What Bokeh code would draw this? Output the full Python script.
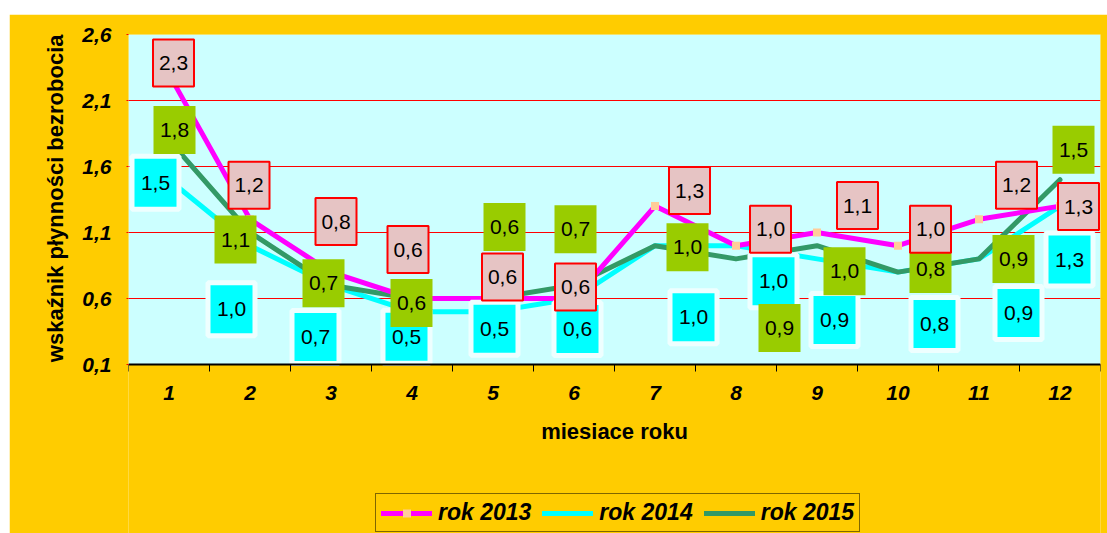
from bokeh.plotting import figure
from bokeh.models import (ColumnDataSource, FixedTicker, Legend, LegendItem, Range1d,
                          BoxAnnotation, Title)
from bokeh.core.properties import value
from bokeh.embed import file_html
from bokeh.resources import INLINE

# ---------------- data ----------------
months = [1, 2, 3, 4, 5, 6, 7, 8, 9, 10, 11, 12]
month_labels = ["1", "2", "3", "4", "5", "6", "7", "8", "9", "10", "11", "12"]
rok_2013 = [2.3, 1.2, 0.8, 0.6, 0.6, 0.6, 1.3, 1.0, 1.1, 1.0, 1.2, 1.3]
rok_2014 = [1.5, 1.0, 0.7, 0.5, 0.5, 0.6, 1.0, 1.0, 0.9, 0.8, 0.9, 1.3]
rok_2015 = [1.8, 1.1, 0.7, 0.6, 0.6, 0.7, 1.0, 0.9, 1.0, 0.8, 0.9, 1.5]
y_ticks = [0.1, 0.6, 1.1, 1.6, 2.1, 2.6]
y_tick_labels = ["0,1", "0,6", "1,1", "1,6", "2,1", "2,6"]
series_names = ["rok 2013", "rok 2014", "rok 2015"]
y_title = "wskaźnik płynności bezrobocia"
x_title = "miesiace roku"

# ---------------- layout / style ----------------
W, H = 1098, 519
MARGIN = (14, 0, 0, 9)
BL, BR, BT = 119, 7, 20
PLOT_H = 330            # height of the value area (0.1 .. 2.6) in px
PAD_BELOW = 169         # px of frame kept under the value area for axis + legend
X0, X1 = 0.5, 12.5
V0, V1 = y_ticks[0], y_ticks[-1]
YS = PLOT_H / (V1 - V0)
Y0 = V0 - PAD_BELOW / YS
FW = W - BL - BR
XS = FW / (X1 - X0)

# data-label box offsets from their point, in screen pixels (dx right, dy down)
off_2013 = [(4.5, -11), (-1, -34), (5, -50.5), (-4, -49), (9.5, -21.6), (1.5, -11.6),
            (34.5, -15.6), (34.5, -16.5), (40.5, -27), (32.5, -16.5), (37.5, -34), (18.5, 0.4)]
off_2014 = [(-13.5, 3), (-18.5, 63.5), (-15.5, 51.7), (-5.5, 25), (1.5, 17), (3.5, 30.4),
            (38.5, 71.5), (37.5, 35.5), (17.5, 61), (36.5, 52), (39.5, 54), (9.5, 53.4)]
off_2015 = [(5.5, -10), (-14.5, 7), (-7.5, -2), (-0.5, 4.4), (11.5, -71.6), (1.5, -56),
            (32.5, 1.5), (43.5, 69), (27.5, 25.5), (32.5, -3), (34.5, 0), (13.5, -30)]

YELLOW = "#FFCC00"
PLOT_BG = "#CCFFFF"
MAGENTA = "#FF00FF"
CYAN = "#00FFFF"
GREEN = "#339966"
FONT = "Liberation Sans"

p = figure(width=W, height=H, output_backend="svg", toolbar_location=None,
           x_range=Range1d(X0, X1), y_range=Range1d(Y0, V1),
           min_border_left=BL, min_border_right=BR, min_border_top=BT,
           min_border_bottom=0)
p.margin = MARGIN
p.background_fill_color = YELLOW
p.border_fill_color = YELLOW
p.outline_line_color = None

# value area background
p.add_layout(BoxAnnotation(bottom=V0, top=V1, fill_color=PLOT_BG, fill_alpha=1,
                           line_color=None, level="image"))

# grid
p.xgrid.grid_line_color = None
p.ygrid.ticker = FixedTicker(ticks=y_ticks)
p.ygrid.grid_line_color = "#FF0000"
p.ygrid.grid_line_width = 1

# y axis
ya = p.yaxis[0]
ya.ticker = FixedTicker(ticks=y_ticks)
ya.major_label_overrides = {t: l for t, l in zip(y_ticks, y_tick_labels)}
ya.axis_line_color = None
ya.major_tick_line_color = "#FF0000"
ya.major_tick_out = 2
ya.major_tick_in = 0
ya.minor_tick_line_color = None
ya.major_label_standoff = 15
ya.major_label_text_font = FONT
ya.major_label_text_font_size = "21px"
ya.major_label_text_font_style = "bold italic"
ya.major_label_text_color = "black"

yt = Title(text=y_title, align="right", vertical_align="bottom", standoff=24,
           text_font=FONT, text_font_size="22px", text_font_style="bold",
           text_color="black")
p.add_layout(yt, "left")

# x axis, pinned to the bottom of the value area
xa = p.xaxis[0]
xa.fixed_location = V0
xa.ticker = FixedTicker(ticks=months, minor_ticks=[m - 0.5 for m in months] + [12.5])
xa.major_label_overrides = {m: l for m, l in zip(months, month_labels)}
xa.axis_line_color = "black"
xa.axis_line_width = 2
xa.major_tick_line_color = None
xa.major_tick_out = 0
xa.major_tick_in = 0
xa.minor_tick_line_color = "black"
xa.minor_tick_line_width = 1
xa.minor_tick_out = 7
xa.minor_tick_in = 0
xa.major_label_standoff = 14
xa.major_label_text_font = FONT
xa.major_label_text_font_size = "21px"
xa.major_label_text_font_style = "bold italic"
xa.major_label_text_color = "black"
xa.axis_label = x_title
xa.axis_label_text_font = FONT
xa.axis_label_text_font_size = "22px"
xa.axis_label_text_font_style = "bold"
xa.axis_label_text_color = "black"
xa.axis_label_standoff = 16

# lines
l14 = p.line(months, rok_2014, line_color=CYAN, line_width=5, line_join="round", line_cap="round")
l15 = p.line(months, rok_2015, line_color=GREEN, line_width=5, line_join="round", line_cap="round")
l13 = p.line(months, rok_2013, line_color=MAGENTA, line_width=5, line_join="round", line_cap="round")
m13 = p.scatter(months, rok_2013, marker="square", size=8, fill_color="#FFCC99",
                line_color=None)


def fmt(v):
    return f"{v:.1f}".replace(".", ",")


def label_source(vals, offs):
    return ColumnDataSource(dict(
        x=[m + dx / XS for m, (dx, dy) in zip(months, offs)],
        y=[v - dy / YS for v, (dx, dy) in zip(vals, offs)],
        t=[fmt(v) for v in vals],
    ))


def add_labels(vals, offs, w, h, fill, line_color, line_width):
    src = label_source(vals, offs)
    p.rect("x", "y", width=w, height=h, width_units="screen", height_units="screen",
           source=src, fill_color=fill, line_color=line_color, line_width=line_width)
    p.text("x", "y", text="t", source=src, text_align="center", text_baseline="middle",
           text_font=value(FONT), text_font_size="21px", text_color="black")


add_labels(rok_2014, off_2014, 47, 53, CYAN, "#EEFFFF", 5)
add_labels(rok_2015, off_2015, 42, 48, "#99CC00", None, 0)
add_labels(rok_2013, off_2013, 41, 47, "#E6C4C4", "#FF0000", 2)

legend = Legend(items=[
    LegendItem(label=series_names[0], renderers=[l13, m13]),
    LegendItem(label=series_names[1], renderers=[l14]),
    LegendItem(label=series_names[2], renderers=[l15]),
], orientation="horizontal", location=(247, 1))
legend.label_text_font = FONT
legend.label_text_font_size = "23px"
legend.label_text_font_style = "bold italic"
legend.label_text_color = "black"
legend.border_line_color = "black"
legend.border_line_width = 1
legend.background_fill_color = YELLOW
legend.background_fill_alpha = 1
legend.glyph_width = 51
legend.glyph_height = 20
legend.label_standoff = 6
legend.label_width = 93
legend.label_height = 20
legend.spacing = 11
legend.padding = 5
legend.margin = 0
p.add_layout(legend)

open("out.html", "w").write(file_html(p, INLINE))
